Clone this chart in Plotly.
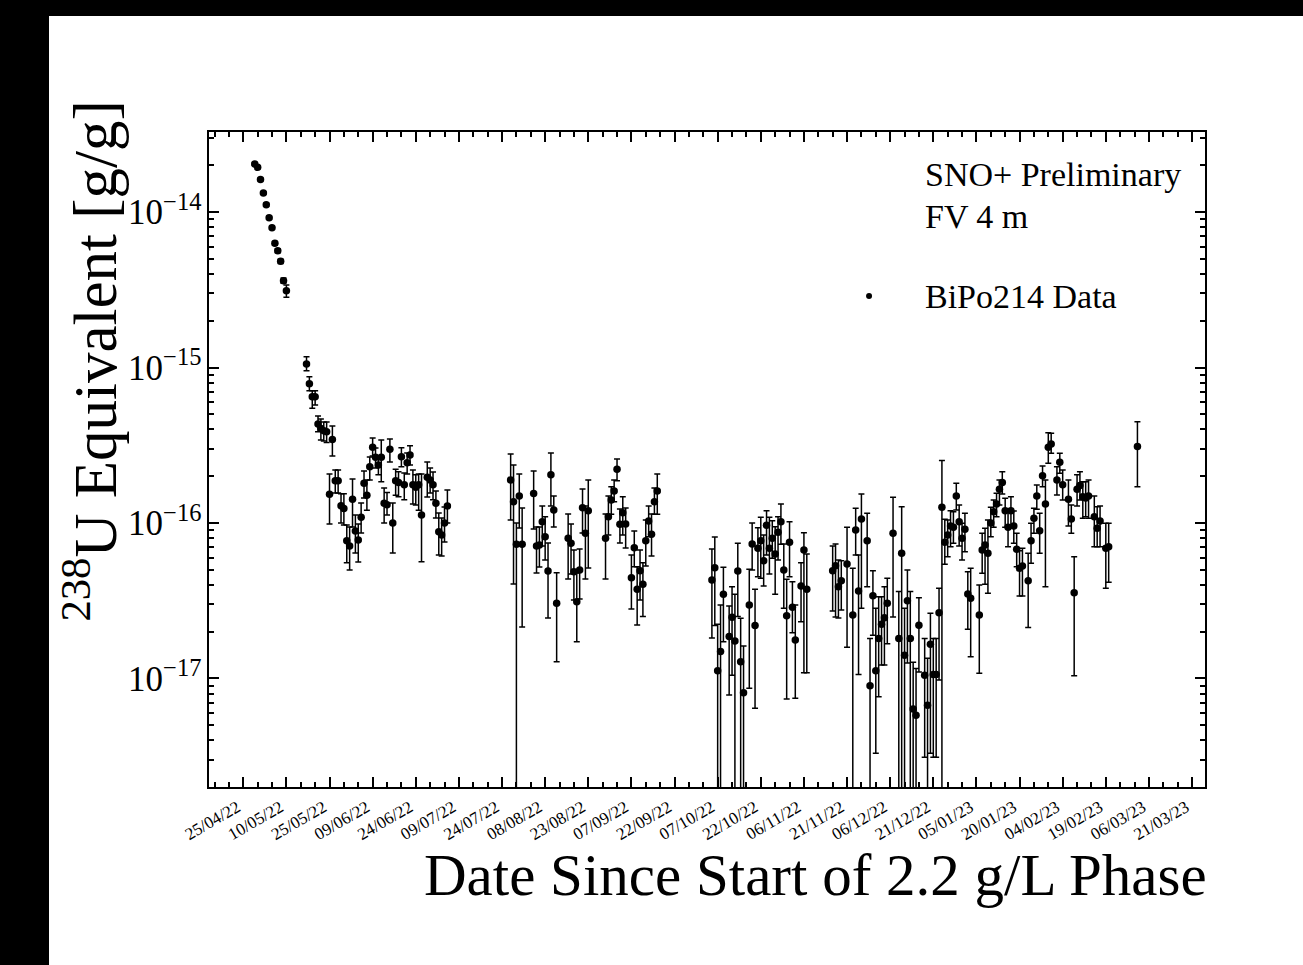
import plotly.graph_objects as go

# BiPo214 coincidence results: one point per day of running
dates = [
    "2022-04-29", "2022-04-30", "2022-05-01", "2022-05-02", "2022-05-03", "2022-05-04",
    "2022-05-05", "2022-05-06", "2022-05-07", "2022-05-08", "2022-05-09", "2022-05-10",
    "2022-05-17", "2022-05-18", "2022-05-19", "2022-05-20", "2022-05-21", "2022-05-22",
    "2022-05-23", "2022-05-24", "2022-05-25", "2022-05-26", "2022-05-27", "2022-05-28",
    "2022-05-29", "2022-05-30", "2022-05-31", "2022-06-01", "2022-06-02", "2022-06-03",
    "2022-06-04", "2022-06-05", "2022-06-06", "2022-06-07", "2022-06-08", "2022-06-09",
    "2022-06-10", "2022-06-11", "2022-06-12", "2022-06-13", "2022-06-14", "2022-06-15",
    "2022-06-16", "2022-06-17", "2022-06-18", "2022-06-19", "2022-06-20", "2022-06-21",
    "2022-06-22", "2022-06-23", "2022-06-24", "2022-06-25", "2022-06-26", "2022-06-28",
    "2022-06-29", "2022-06-30", "2022-07-01", "2022-07-02", "2022-07-03", "2022-07-04",
    "2022-07-05",
    "2022-07-27", "2022-07-28", "2022-07-29", "2022-07-30", "2022-07-31", "2022-08-04",
    "2022-08-05", "2022-08-06", "2022-08-07", "2022-08-08", "2022-08-09", "2022-08-10",
    "2022-08-11", "2022-08-12", "2022-08-16", "2022-08-17", "2022-08-18", "2022-08-19",
    "2022-08-20", "2022-08-21", "2022-08-22", "2022-08-23", "2022-08-29", "2022-08-30",
    "2022-08-31", "2022-09-01", "2022-09-02", "2022-09-03", "2022-09-04", "2022-09-05",
    "2022-09-07", "2022-09-08", "2022-09-09", "2022-09-10", "2022-09-11", "2022-09-12",
    "2022-09-13", "2022-09-14", "2022-09-15", "2022-09-16",
    "2022-10-05", "2022-10-06", "2022-10-07", "2022-10-08", "2022-10-09", "2022-10-11",
    "2022-10-12", "2022-10-13", "2022-10-14", "2022-10-15", "2022-10-16", "2022-10-18",
    "2022-10-19", "2022-10-20", "2022-10-21", "2022-10-22", "2022-10-23", "2022-10-24",
    "2022-10-25", "2022-10-26", "2022-10-27", "2022-10-28", "2022-10-29", "2022-10-30",
    "2022-10-31", "2022-11-01", "2022-11-02", "2022-11-03", "2022-11-05", "2022-11-06",
    "2022-11-07",
    "2022-11-16", "2022-11-17", "2022-11-18", "2022-11-19", "2022-11-21", "2022-11-23",
    "2022-11-24", "2022-11-25", "2022-11-26", "2022-11-28", "2022-11-29", "2022-11-30",
    "2022-12-01", "2022-12-02", "2022-12-03", "2022-12-04", "2022-12-05", "2022-12-07",
    "2022-12-09", "2022-12-10", "2022-12-11", "2022-12-12", "2022-12-13", "2022-12-14",
    "2022-12-15", "2022-12-16", "2022-12-18", "2022-12-19", "2022-12-20", "2022-12-21",
    "2022-12-22", "2022-12-23", "2022-12-24", "2022-12-25", "2022-12-26", "2022-12-27",
    "2022-12-28", "2022-12-29", "2022-12-30", "2022-12-31", "2023-01-01", "2023-01-02",
    "2023-01-03", "2023-01-06", "2023-01-07", "2023-01-08", "2023-01-09", "2023-01-10",
    "2023-01-11", "2023-01-12", "2023-01-13", "2023-01-14", "2023-01-15", "2023-01-16",
    "2023-01-17", "2023-01-18", "2023-01-19", "2023-01-20", "2023-01-21", "2023-01-23",
    "2023-01-24", "2023-01-25", "2023-01-26", "2023-01-27", "2023-01-28", "2023-01-29",
    "2023-01-30", "2023-01-31", "2023-02-02", "2023-02-03", "2023-02-04", "2023-02-06",
    "2023-02-07", "2023-02-08", "2023-02-09", "2023-02-10", "2023-02-11", "2023-02-12",
    "2023-02-13", "2023-02-15", "2023-02-16", "2023-02-17", "2023-02-19", "2023-02-20",
    "2023-03-02",
]

# 238U-equivalent concentration [g/g]
u238 = [
    2.04e-14, 1.94e-14, 1.62e-14, 1.325e-14, 1.114e-14, 9.19e-15,
    7.93e-15, 6.29e-15, 5.64e-15, 4.82e-15, 3.62e-15, 3.12e-15,
    1.053e-15, 7.87e-16, 6.49e-16, 6.49e-16, 4.33e-16, 4.06e-16,
    3.92e-16, 3.865e-16, 1.53e-16, 3.45e-16, 1.87e-16, 1.87e-16,
    1.29e-16, 1.24e-16, 7.7e-17, 7.11e-17, 1.42e-16, 8.88e-17,
    7.77e-17, 1.09e-16, 1.80e-16, 1.51e-16, 2.30e-16, 3.07e-16,
    2.65e-16, 2.36e-16, 2.65e-16, 1.34e-16, 1.31e-16, 2.98e-16,
    1.0e-16, 1.87e-16, 1.82e-16, 2.67e-16, 1.76e-16, 2.44e-16,
    2.74e-16, 1.76e-16, 1.70e-16, 1.76e-16, 1.126e-16, 1.97e-16,
    1.89e-16, 1.76e-16, 1.34e-16, 8.79e-17, 8.37e-17, 1.0e-16,
    1.286e-16,
    1.89e-16, 1.37e-16, 7.3e-17, 1.49e-16, 7.3e-17, 1.55e-16,
    7.11e-17, 7.22e-17, 1.02e-16, 8.16e-17, 4.91e-17, 2.04e-16,
    1.212e-16, 3.05e-17, 7.97e-17, 7.4e-17, 4.86e-17, 3.12e-17,
    4.99e-17, 1.254e-16, 8.58e-17, 1.2e-16, 7.97e-17, 1.098e-16,
    1.406e-16, 1.606e-16, 2.22e-16, 9.81e-17, 1.165e-16, 9.85e-17,
    4.45e-17, 6.94e-17, 3.75e-17, 4.94e-17, 4.03e-17, 7.7e-17,
    1.03e-16, 8.46e-17, 1.371e-16, 1.606e-16,
    4.3e-17, 5.16e-17, 1.12e-17, 1.49e-17, 3.48e-17, 1.86e-17,
    2.48e-17, 1.74e-17, 4.91e-17, 1.28e-17, 8.1e-18, 2.97e-17,
    7.33e-17, 2.19e-17, 6.88e-17, 7.7e-17, 5.72e-17, 9.67e-17,
    6.88e-17, 7.97e-17, 6.32e-17, 8.71e-17, 1.02e-16, 4.99e-17,
    2.53e-17, 7.51e-17, 2.87e-17, 1.77e-17, 3.93e-17, 6.7e-17,
    3.75e-17,
    4.94e-17, 5.31e-17, 3.89e-17, 4.26e-17, 5.45e-17, 2.56e-17,
    9.02e-17, 3.65e-17, 1.061e-16, 7.7e-17, 8.99e-18, 3.41e-17,
    1.12e-17, 1.81e-17, 2.23e-17, 2.46e-17, 3.05e-17, 8.58e-17,
    1.81e-17, 6.39e-17, 1.41e-17, 3.16e-17, 1.81e-17, 6.37e-18,
    5.8e-18, 2.2e-17, 1.05e-17, 6.72e-18, 1.66e-17, 1.06e-17,
    1.06e-17, 2.65e-17, 1.262e-16, 7.51e-17, 8.37e-17, 9.57e-17,
    9.38e-17, 1.49e-16, 1.02e-16, 7.97e-17, 9.11e-17, 3.49e-17,
    3.28e-17, 2.56e-17, 6.7e-17, 7.22e-17, 6.39e-17, 1.0e-16,
    1.182e-16, 1.325e-16, 1.65e-16, 1.82e-16, 1.2e-16, 9.38e-17,
    1.2e-16, 9.57e-17, 6.78e-17, 5.11e-17, 5.29e-17, 4.26e-17,
    7.7e-17, 1.072e-16, 1.49e-16, 8.92e-17, 2.01e-16, 1.325e-16,
    3.07e-16, 3.22e-16, 1.89e-16, 2.46e-16, 1.76e-16, 1.42e-16,
    1.061e-16, 3.56e-17, 1.65e-16, 1.74e-16, 1.476e-16, 1.45e-16,
    1.49e-16, 1.098e-16, 9.24e-17, 1.03e-16, 6.88e-17, 7.04e-17,
    3.1e-16,
]

# lower edge of each uncertainty band (0 = band reaches zero)
u238_lo = [
    2.00e-14, 1.90e-14, 1.59e-14, 1.30e-14, 1.09e-14, 9.0e-15,
    7.75e-15, 6.12e-15, 5.48e-15, 4.66e-15, 3.49e-15, 2.83e-15,
    9.54e-16, 7.09e-16, 5.47e-16, 5.74e-16, 3.86e-16, 3.42e-16,
    3.37e-16, 3.30e-16, 9.85e-17, 2.70e-16, 1.56e-16, 1.56e-16,
    1.0e-16, 9.7e-17, 5.56e-17, 4.99e-17, 9.43e-17, 6.41e-17,
    5.61e-17, 8.62e-17, 1.45e-16, 1.21e-16, 1.89e-16, 2.70e-16,
    2.26e-16, 2.04e-16, 1.84e-16, 1.0e-16, 1.126e-16, 2.47e-16,
    6.41e-17, 1.51e-16, 1.476e-16, 2.30e-16, 1.41e-16, 2.07e-16,
    2.36e-16, 1.325e-16, 1.305e-16, 1.21e-16, 5.64e-17, 1.47e-16,
    1.56e-16, 1.41e-16, 1.077e-16, 6.23e-17, 6.13e-17, 7.55e-17,
    1.0e-16,
    1.045e-16, 4.05e-17, 0.0, 9.29e-17, 2.14e-17, 9.15e-17,
    4.77e-17, 5.21e-17, 7.11e-17, 5.78e-17, 2.45e-17, 1.286e-16,
    9.43e-17, 1.28e-17, 4.36e-17, 4.7e-17, 3.2e-17, 1.72e-17,
    3.25e-17, 8.62e-17, 4.36e-17, 5.14e-17, 4.36e-17, 8.37e-17,
    1.137e-16, 1.371e-16, 1.87e-16, 7.44e-17, 8.37e-17, 6.9e-17,
    2.8e-17, 5.24e-17, 2.21e-17, 3.2e-17, 2.5e-17, 5.29e-17,
    8.16e-17, 6.13e-17, 1.137e-16, 1.137e-16,
    1.82e-17, 2.19e-17, 0.0, 0.0, 1.72e-17, 7.83e-18,
    1.05e-17, 0.0, 2.5e-17, 0.0, 0.0, 8.65e-18,
    4.99e-17, 6.43e-18, 4.51e-17, 4.41e-17, 3.93e-17, 6.23e-17,
    4.7e-17, 5.93e-17, 3.48e-17, 5.78e-17, 7.3e-17, 2.83e-17,
    7.38e-18, 4.51e-17, 1.97e-17, 7.47e-18, 2.32e-17, 1.09e-17,
    1.09e-17,
    2.72e-17, 2.49e-17, 2.45e-17, 2.76e-17, 1.59e-17, 0.0,
    6.23e-17, 1.06e-17, 2.83e-17, 3.89e-17, 0.0, 1.9e-17,
    3.3e-18, 7.64e-18, 1.22e-17, 1.22e-17, 1.67e-17, 2.49e-17,
    0.0, 0.0, 0.0, 1.26e-17, 0.0, 0.0,
    0.0, 1.1e-17, 3.11e-18, 0.0, 3.3e-18, 3.11e-18,
    3.11e-18, 9.78e-18, 0.0, 5.42e-17, 6.07e-17, 7.04e-17,
    7.4e-17, 1.212e-16, 7.11e-17, 5.78e-17, 6.54e-17, 2.07e-17,
    1.38e-17, 1.08e-17, 4.75e-17, 4.03e-17, 3.53e-17, 8.16e-17,
    9.38e-17, 1.098e-16, 1.305e-16, 1.537e-16, 9.38e-17, 7.04e-17,
    9.38e-17, 7.4e-17, 5.24e-17, 3.39e-17, 3.39e-17, 2.13e-17,
    5.51e-17, 8.58e-17, 1.225e-16, 6.39e-17, 1.712e-16, 3.89e-17,
    2.42e-16, 2.81e-16, 1.514e-16, 2.088e-16, 1.406e-16, 9.57e-17,
    8.58e-17, 1.04e-17, 1.286e-16, 1.406e-16, 1.072e-16, 1.098e-16,
    1.072e-16, 7.04e-17, 7.04e-17, 7.04e-17, 3.8e-17, 4.16e-17,
    1.712e-16,
]

# upper edge of each uncertainty band
u238_hi = [
    2.08e-14, 1.98e-14, 1.65e-14, 1.35e-14, 1.14e-14, 9.4e-15,
    8.1e-15, 6.46e-15, 5.8e-15, 4.98e-15, 3.76e-15, 3.40e-15,
    1.174e-15, 8.73e-16, 7.09e-16, 7.09e-16, 4.88e-16, 4.67e-16,
    4.46e-16, 4.46e-16, 2.07e-16, 4.20e-16, 2.19e-16, 2.19e-16,
    1.54e-16, 1.54e-16, 9.7e-17, 9.43e-17, 1.92e-16, 1.126e-16,
    9.85e-17, 1.345e-16, 2.16e-16, 1.89e-16, 2.66e-16, 3.52e-16,
    3.04e-16, 2.66e-16, 3.42e-16, 1.68e-16, 1.57e-16, 3.47e-16,
    1.345e-16, 2.22e-16, 2.14e-16, 3.05e-16, 2.10e-16, 2.82e-16,
    3.14e-16, 2.19e-16, 2.04e-16, 2.07e-16, 2.07e-16, 2.47e-16,
    2.26e-16, 2.13e-16, 1.606e-16, 1.16e-16, 1.077e-16, 1.267e-16,
    1.63e-16,
    2.78e-16, 2.36e-16, 1.0e-16, 2.07e-16, 1.249e-16, 2.16e-16,
    9.43e-17, 9.43e-17, 1.286e-16, 1.098e-16, 7.44e-17, 2.82e-16,
    1.49e-16, 4.79e-17, 1.143e-16, 9.85e-17, 6.7e-17, 4.77e-17,
    6.81e-17, 1.654e-16, 1.286e-16, 1.89e-16, 1.143e-16, 1.49e-16,
    1.712e-16, 1.89e-16, 2.58e-16, 1.23e-16, 1.476e-16, 1.249e-16,
    6.23e-17, 8.88e-17, 5.24e-17, 6.7e-17, 5.56e-17, 1.045e-16,
    1.286e-16, 1.143e-16, 1.68e-16, 2.07e-16,
    6.81e-17, 8.13e-17, 2.23e-17, 2.97e-17, 5.19e-17, 2.93e-17,
    3.89e-17, 3.48e-17, 7.4e-17, 2.44e-17, 1.62e-17, 5.04e-17,
    1.0e-16, 3.75e-17, 9.33e-17, 1.088e-16, 8.37e-17, 1.2e-16,
    1.088e-16, 1.035e-16, 9.47e-17, 1.098e-16, 1.325e-16, 7.33e-17,
    4.35e-17, 1.02e-16, 4.19e-17, 2.97e-17, 5.56e-17, 8.66e-17,
    6.32e-17,
    7.11e-17, 7.33e-17, 5.78e-17, 5.72e-17, 9.38e-17, 5.11e-17,
    1.243e-16, 6.23e-17, 1.537e-16, 1.154e-16, 1.81e-17, 4.94e-17,
    2.83e-17, 3.36e-17, 3.36e-17, 3.89e-17, 4.41e-17, 1.463e-16,
    3.62e-17, 1.273e-16, 2.83e-17, 4.99e-17, 3.62e-17, 1.27e-17,
    1.16e-17, 3.31e-17, 1.81e-17, 1.35e-17, 2.63e-17, 1.81e-17,
    1.81e-17, 3.8e-17, 2.52e-16, 1.056e-16, 1.045e-16, 1.2e-16,
    1.182e-16, 1.8e-16, 1.305e-16, 9.96e-17, 1.154e-16, 4.86e-17,
    5.11e-17, 3.99e-17, 8.58e-17, 9.24e-17, 1.045e-16, 1.262e-16,
    1.406e-16, 1.552e-16, 1.89e-16, 2.14e-16, 1.442e-16, 1.182e-16,
    1.476e-16, 1.194e-16, 8.58e-17, 6.64e-17, 6.88e-17, 6.39e-17,
    9.96e-17, 1.243e-16, 1.755e-16, 1.154e-16, 2.33e-16, 1.89e-16,
    3.81e-16, 3.78e-16, 2.30e-16, 2.81e-16, 2.19e-16, 1.89e-16,
    1.305e-16, 6.07e-17, 2.04e-16, 2.14e-16, 1.843e-16, 1.843e-16,
    1.89e-16, 1.49e-16, 1.273e-16, 1.286e-16, 9.96e-17, 9.96e-17,
    4.48e-16,
]

tick_dates = [
    "2022-04-25", "2022-05-10", "2022-05-25", "2022-06-09", "2022-06-24", "2022-07-09",
    "2022-07-24", "2022-08-08", "2022-08-23", "2022-09-07", "2022-09-22", "2022-10-07",
    "2022-10-22", "2022-11-06", "2022-11-21", "2022-12-06", "2022-12-21", "2023-01-05",
    "2023-01-20", "2023-02-04", "2023-02-19", "2023-03-06", "2023-03-21",
]
tick_labels = [
    "25/04/22", "10/05/22", "25/05/22", "09/06/22", "24/06/22", "09/07/22",
    "24/07/22", "08/08/22", "23/08/22", "07/09/22", "22/09/22", "07/10/22",
    "22/10/22", "06/11/22", "21/11/22", "06/12/22", "21/12/22", "05/01/23",
    "20/01/23", "04/02/23", "19/02/23", "06/03/23", "21/03/23",
]

err_plus = [h - v for v, h in zip(u238, u238_hi)]
err_minus = [v - lo for v, lo in zip(u238, u238_lo)]

SERIF = "Liberation Serif, Times New Roman, serif"
DAY_MS = 86400000

fig = go.Figure()
fig.add_trace(go.Scatter(
    x=dates, y=u238, mode="markers",
    marker=dict(color="black", size=7.5),
    error_y=dict(type="data", symmetric=False, array=err_plus, arrayminus=err_minus,
                 color="black", thickness=1.5, width=3),
    showlegend=False,
))

frame = dict(showline=True, linecolor="black", linewidth=2, mirror="ticks",
             ticks="inside", tickcolor="black", tickwidth=1.5, ticklen=10,
             showgrid=False, zeroline=False)

fig.update_xaxes(
    type="date", range=["2022-04-13 02:00", "2023-03-25 12:00"],
    tickmode="array", tickvals=tick_dates, ticktext=tick_labels, tickangle=-30,
    tickfont=dict(family=SERIF, size=17, color="black"),
    ticklabelshift=-6, ticklabelstandoff=2,
    minor=dict(ticks="inside", ticklen=5, tickcolor="black", tickwidth=1.5,
               tick0="2022-04-25", dtick=5 * DAY_MS, showgrid=False),
    **frame,
)
fig.update_yaxes(
    type="log", range=[-17.698, -13.485], dtick=1, exponentformat="power",
    tickfont=dict(family=SERIF, size=28, color="black"),
    minor=dict(ticks="inside", ticklen=5, tickcolor="black", tickwidth=1.5,
               dtick="D1", showgrid=False),
    **frame,
)

# axis titles
fig.add_annotation(text="Date Since Start of 2.2 g/L Phase", xref="paper", yref="paper",
                   x=1.0, y=-0.134, xanchor="right", yanchor="middle", xshift=4,
                   showarrow=False, font=dict(family=SERIF, size=59, color="black"))
fig.add_annotation(text="<sup>238</sup>U Equivalent [g/g]", xref="paper", yref="paper",
                   x=-0.1185, y=0.651, xanchor="center", yanchor="middle", textangle=-90,
                   showarrow=False, font=dict(family=SERIF, size=61, color="black"))

# in-frame labels and legend entry
for label, ypos in [("SNO+ Preliminary", 0.9345), ("FV 4 m", 0.8705), ("BiPo214 Data", 0.7496)]:
    fig.add_annotation(text=label, xref="paper", yref="paper", x=0.7169, y=ypos,
                       xanchor="left", yanchor="middle", showarrow=False,
                       font=dict(family=SERIF, size=34, color="black"))
fig.add_shape(type="circle", xref="paper", yref="paper", xsizemode="pixel", ysizemode="pixel",
              xanchor=0.6627, yanchor=0.7496, x0=-3, x1=3, y0=-3, y1=3,
              fillcolor="black", line=dict(color="black", width=0))

# dark border along the left and top edges of the page
fig.add_shape(type="rect", xref="paper", yref="paper", x0=-0.3, x1=-0.16064, y0=-0.5, y1=1.5,
              fillcolor="black", line=dict(width=0), layer="above")
fig.add_shape(type="rect", xref="paper", yref="paper", x0=-0.3, x1=1.3, y0=1.1771, y1=1.5,
              fillcolor="black", line=dict(width=0), layer="above")

fig.update_layout(
    width=1303, height=965,
    margin=dict(l=209, r=98, t=132, b=178, autoexpand=False),
    paper_bgcolor="white", plot_bgcolor="white",
    font=dict(family=SERIF, color="black"),
)

fig.write_html("out.html")
